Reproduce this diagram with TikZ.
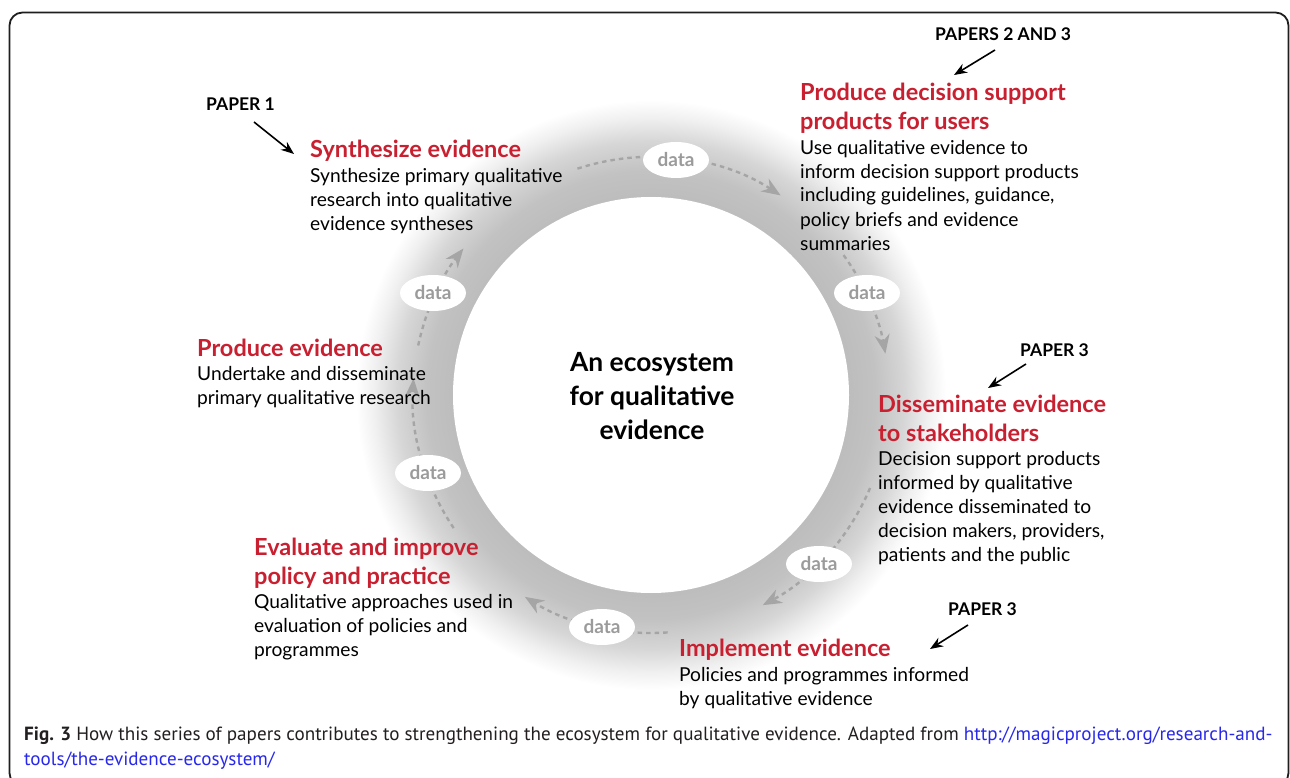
\documentclass[tikz,border=0pt]{standalone}
\usepackage{fontspec}
\setmainfont{Lato}
\newfontfamily\capfont{PT Sans}
\usetikzlibrary{arrows.meta,calc,shapes.geometric}
\definecolor{ecored}{RGB}{200,32,48}
\definecolor{datagray}{RGB}{155,155,155}
\definecolor{flowgray}{RGB}{165,165,165}
\definecolor{ringA}{RGB}{188,188,188}
\definecolor{ringB}{RGB}{194,194,194}
\definecolor{ringC}{RGB}{214,214,214}
\definecolor{ringD}{RGB}{240,240,240}
\definecolor{captext}{RGB}{35,31,32}
\definecolor{linkblue}{RGB}{40,40,235}
\pgfdeclareradialshading{ecoring}{\pgfpoint{0bp}{0bp}}{color(0bp)=(ringA); color(16.5bp)=(ringA); color(19bp)=(ringB); color(21.5bp)=(ringC); color(23.5bp)=(ringD); color(25bp)=(white); color(50bp)=(white)}
\tikzset{
  title/.style={anchor=base west, inner sep=0pt, align=left, text=ecored, font=\fontsize{23.5}{29}\selectfont\bfseries},
  body/.style={anchor=base west, inner sep=0pt, align=left, text=black, font=\fontsize{19.2}{24}\selectfont},
  paper/.style={anchor=base west, inner sep=0pt, font=\fontsize{17.5}{20}\selectfont\bfseries},
  paperarrow/.style={-{Stealth[length=13pt,width=10pt]}, line width=1.6pt, black},
  datanode/.style={ellipse, fill=white, minimum width=66pt, minimum height=36pt, inner sep=0pt, text=datagray, font=\fontsize{19}{20}\selectfont\bfseries},
  flow/.style={line width=2.4pt, flowgray, dash pattern=on 4.5pt off 4pt},
  flowtip/.style={flow, -{Stealth[length=19pt,width=15pt]}},
}
\begin{document}
\begin{tikzpicture}[x=1pt,y=-1pt]
\useasboundingbox (0,0) rectangle (1290,778);
\fill[white] (0,0) rectangle (1290,778);
\draw[line width=1.8pt, draw={rgb,255:red,30;green,30;blue,30}, rounded corners=13pt] (9.5,12.5) rectangle (1288.5,786);
% ring
\coordinate (C) at (651,395);
\shade[shading=ecoring] (C) circle[radius=295];
\fill[white] (C) circle[radius=198];
\node[align=center, inner sep=0pt, font=\fontsize{26.4}{34}\selectfont\bfseries] (center) at (652,396) {An ecosystem\\for qualitative\\evidence};
% flow arcs
\draw[flowtip] ($(C)+(-108:238)$) arc[start angle=-108, end angle=-57, radius=238];
\draw[flowtip] ($(C)+(-36:238)$) arc[start angle=-36, end angle=-10, radius=238];
\draw[flowtip] ($(C)+(23:238)$) arc[start angle=23, end angle=62, radius=238];
\draw[flowtip] ($(C)+(86:238)$) arc[start angle=86, end angle=122, radius=238];
\draw[flowtip] ($(C)+(146:238)$) arc[start angle=146, end angle=184, radius=238];
\draw[flowtip] ($(C)+(192:238)$) arc[start angle=192, end angle=218, radius=238];
% data labels
\node[datanode] (d1) at (676,160) {data};
\node[datanode] (d2) at (867,293) {data};
\node[datanode] (d3) at (819,564) {data};
\node[datanode] (d4) at (602,627) {data};
\node[datanode] (d5) at (428,473) {data};
\node[datanode] (d6) at (433,293) {data};
% stages (anchor = baseline of last line)
\node[title] (t1) at (310,158) {Synthesize evidence};
\node[body] (b1) at (310,230) {Synthesize primary qualitative\\research into qualitative\\evidence syntheses};
\node[title] (t2) at (800,130) {Produce decision support\\products for users};
\node[body] (b2) at (800,250) {Use qualitative evidence to\\inform decision support products\\including guidelines, guidance,\\policy briefs and evidence\\summaries};
\node[title] (t3) at (878,441) {Disseminate evidence\\to stakeholders};
\node[body] (b3) at (878,561) {Decision support products\\informed by qualitative\\evidence disseminated to\\decision makers, providers,\\patients and the public};
\node[title] (t4) at (679,656) {Implement evidence};
\node[body] (b4) at (679,705) {Policies and programmes informed\\by qualitative evidence};
\node[title] (t5) at (254,584) {Evaluate and improve\\policy and practice};
\node[body] (b5) at (254,656) {Qualitative approaches used in\\evaluation of policies and\\programmes};
\node[title] (t6) at (197,356) {Produce evidence};
\node[body] (b6) at (197,404) {Undertake and disseminate\\primary qualitative research};
% paper labels
\node[paper] (p1) at (206,111) {PAPER 1};
\node[paper] (p2) at (935,41) {PAPERS 2 AND 3};
\node[paper] (p3) at (1020,356) {PAPER 3};
\node[paper] (p4) at (948,615) {PAPER 3};
\coordinate (p1s) at (254,122); \coordinate (p1e) at (294,154);
\coordinate (p2s) at (995,50); \coordinate (p2e) at (954,75);
\coordinate (p3s) at (1026,364); \coordinate (p3e) at (988,388);
\coordinate (p4s) at (968,625); \coordinate (p4e) at (930,649);
\draw[paperarrow] (p1s) -- (p1e);
\draw[paperarrow] (p2s) -- (p2e);
\draw[paperarrow] (p3s) -- (p3e);
\draw[paperarrow] (p4s) -- (p4e);
% caption
\node[anchor=base west, inner sep=0pt, align=left, text=captext, font=\capfont\fontsize{19.1}{25}\selectfont] (cap) at (24,765) {\textbf{Fig. 3} How this series of papers contributes to strengthening the ecosystem for qualitative evidence. Adapted from \textcolor{linkblue}{http://magicproject.org/research-and-}\\\textcolor{linkblue}{tools/the-evidence-ecosystem/}};
\end{tikzpicture}
\end{document}
